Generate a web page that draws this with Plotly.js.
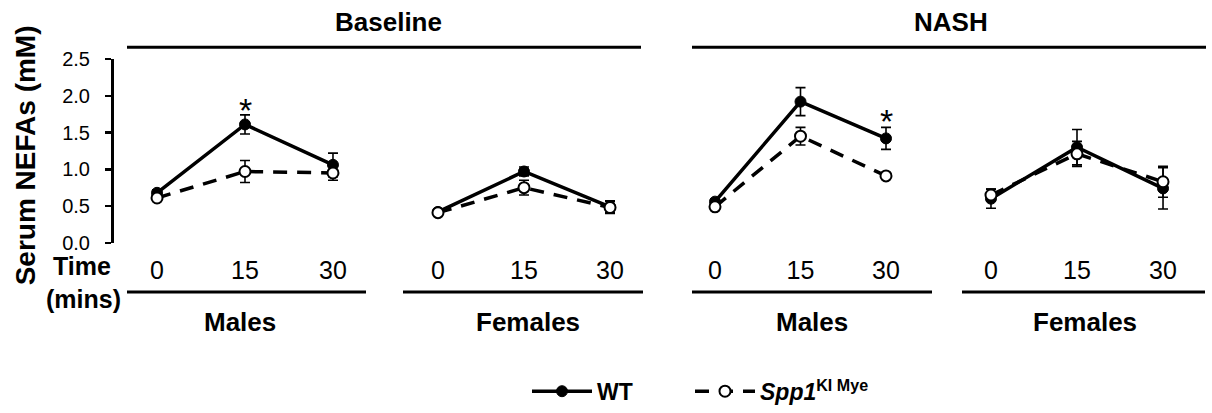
<!DOCTYPE html>
<html>
<head>
<meta charset="utf-8">
<script src="https://cdn.plot.ly/plotly-3.0.1.min.js"></script>
<style>html,body{margin:0;padding:0;background:#fff}#chart{width:1212px;height:413px}</style>
</head>
<body>
<div id="chart"></div>
<script>
// ---- data ----
var times = [0, 15, 30];
var timeTicks = ['0', '15', '30'];
var panelNames = ['Males', 'Females', 'Males', 'Females'];
var groupNames = ['Baseline', 'NASH'];
var seriesNames = ['WT', '<i>Spp1</i><sup>KI Mye</sup>'];

var wtBaseMale = [0.68, 1.61, 1.06];
var wtBaseMaleErr = [0.04, 0.13, 0.16];
var koBaseMale = [0.61, 0.97, 0.95];
var koBaseMaleErr = [0.04, 0.15, 0.10];

var wtBaseFemale = [0.42, 0.97, 0.49];
var wtBaseFemaleErr = [0.03, 0.06, 0.08];
var koBaseFemale = [0.41, 0.75, 0.48];
var koBaseFemaleErr = [0.03, 0.10, 0.08];

var wtNashMale = [0.56, 1.92, 1.42];
var wtNashMaleErr = [0.04, 0.19, 0.15];
var koNashMale = [0.49, 1.45, 0.91];
var koNashMaleErr = [0.03, 0.12, 0.03];

var wtNashFemale = [0.60, 1.30, 0.74];
var wtNashFemaleErr = [0.13, 0.24, 0.28];
var koNashFemale = [0.65, 1.21, 0.83];
var koNashFemaleErr = [0.08, 0.17, 0.21];

// significance marks: panel index, time, y position
var sigPanels = [0, 2];
var sigTimes = [15, 30];
var sigY = [1.80, 1.66];

// ---- layout helpers ----
var W = 1212, H = 413;
function px(x) { return x / W; }
function py(y) { return 1 - y / H; }

var wtData = [wtBaseMale, wtBaseFemale, wtNashMale, wtNashFemale];
var wtErr = [wtBaseMaleErr, wtBaseFemaleErr, wtNashMaleErr, wtNashFemaleErr];
var koData = [koBaseMale, koBaseFemale, koNashMale, koNashFemale];
var koErr = [koBaseMaleErr, koBaseFemaleErr, koNashMaleErr, koNashFemaleErr];

var FONT = 'Liberation Sans, Arial, sans-serif';
var axSuffix = ['', '2', '3', '4'];

var traces = [];
for (var i = 0; i < 4; i++) {
  traces.push({
    type: 'scatter', mode: 'lines+markers',
    x: times, y: wtData[i],
    xaxis: 'x' + axSuffix[i], yaxis: 'y',
    name: seriesNames[0], legendgroup: 'wt', showlegend: i === 0, legend: 'legend',
    line: { color: '#000', width: 3.5 },
    marker: { symbol: 'circle', size: 11, color: '#000', line: { color: '#000', width: 1 } },
    error_y: { type: 'data', array: wtErr[i], visible: true, color: '#000', thickness: 1.6, width: 5 },
    cliponaxis: false
  });
}
for (var j = 0; j < 4; j++) {
  traces.push({
    type: 'scatter', mode: 'lines+markers',
    x: times, y: koData[j],
    xaxis: 'x' + axSuffix[j], yaxis: 'y',
    name: seriesNames[1], legendgroup: 'ko', showlegend: j === 0, legend: 'legend2',
    line: { color: '#000', width: 3.5, dash: '14px,10px' },
    marker: { symbol: 'circle', size: 11, color: '#fff', line: { color: '#000', width: 2 } },
    error_y: { type: 'data', array: koErr[j], visible: true, color: '#000', thickness: 1.6, width: 5 },
    cliponaxis: false
  });
}

function legendAt(xpx) {
  return {
    orientation: 'h', x: px(xpx), xanchor: 'left', y: py(398), yanchor: 'middle',
    font: { family: FONT, size: 23, color: '#000', weight: 'bold' },
    itemwidth: 60,
    bgcolor: 'rgba(0,0,0,0)', itemclick: false, itemdoubleclick: false
  };
}

// x domains in pixels (range -5..35)
var xDomPx = [[127.7, 362.3], [409.3, 638.7], [686.5, 914.5], [962.3, 1191.7]];
var layout = {
  width: W, height: H,
  margin: { l: 0, r: 0, t: 0, b: 0 },
  paper_bgcolor: '#fff', plot_bgcolor: 'rgba(0,0,0,0)',
  font: { family: FONT, color: '#000' },
  showlegend: true,
  legend: legendAt(527),
  legend2: legendAt(690),
  yaxis: {
    domain: [py(247), py(60)], range: [0, 2.5],
    anchor: 'free', position: px(112),
    showline: true, linecolor: '#000', linewidth: 2.5,
    ticks: 'outside', ticklen: 6, tickwidth: 2.5, tickcolor: '#000',
    dtick: 0.5, tick0: 0, tickformat: '.1f',
    tickfont: { family: FONT, size: 20, color: '#000' },
    ticklabelstandoff: 11,
    showgrid: false, zeroline: false, fixedrange: true
  },
  shapes: [],
  annotations: []
};
for (var k = 0; k < 4; k++) {
  layout['xaxis' + axSuffix[k]] = {
    domain: [px(xDomPx[k][0]), px(xDomPx[k][1])],
    range: [-5, 35], anchor: 'y',
    tickvals: times, ticktext: timeTicks,
    tickfont: { family: FONT, size: 25, color: '#000' },
    ticks: '', showline: false, showgrid: false, zeroline: false,
    ticklabelstandoff: 10, fixedrange: true
  };
}

// bottom bracket lines and panel names
var bottomLines = [[127, 366], [403, 643], [692, 932], [962, 1205]];
var panelCenters = [240, 528, 812, 1085];
for (var b = 0; b < 4; b++) {
  layout.shapes.push({ type: 'line', xref: 'paper', yref: 'paper',
    x0: px(bottomLines[b][0]), x1: px(bottomLines[b][1]), y0: py(297), y1: py(297),
    line: { color: '#000', width: 3 } });
  layout.annotations.push({ xref: 'paper', yref: 'paper', x: px(panelCenters[b]), y: py(328),
    text: '<b>' + panelNames[b] + '</b>', showarrow: false, xanchor: 'center', yanchor: 'middle',
    font: { family: FONT, size: 26, color: '#000' } });
}
// top group lines and headers
var topLines = [[127, 641], [692, 1206]];
var groupCenters = [388, 951];
for (var g = 0; g < 2; g++) {
  layout.shapes.push({ type: 'line', xref: 'paper', yref: 'paper',
    x0: px(topLines[g][0]), x1: px(topLines[g][1]), y0: py(48), y1: py(48),
    line: { color: '#000', width: 3 } });
  layout.annotations.push({ xref: 'paper', yref: 'paper', x: px(groupCenters[g]), y: py(22),
    text: '<b>' + groupNames[g] + '</b>', showarrow: false, xanchor: 'center', yanchor: 'middle',
    font: { family: FONT, size: 26, color: '#000' } });
}
// significance asterisks
for (var s = 0; s < sigPanels.length; s++) {
  layout.annotations.push({ xref: 'x' + axSuffix[sigPanels[s]], yref: 'y',
    x: sigTimes[s], y: sigY[s], text: '*', showarrow: false, xanchor: 'center', yanchor: 'middle',
    font: { family: FONT, size: 34, color: '#000' } });
}
// y title, time label
layout.annotations.push({ xref: 'paper', yref: 'paper', x: px(25), y: py(158),
  text: '<b>Serum NEFAs (mM)</b>', textangle: -90, showarrow: false,
  xanchor: 'center', yanchor: 'middle', font: { family: FONT, size: 28, color: '#000' } });
layout.annotations.push({ xref: 'paper', yref: 'paper', x: px(82), y: py(271),
  text: '<b>Time</b>', showarrow: false, xanchor: 'center', yanchor: 'middle',
  font: { family: FONT, size: 25, color: '#000' } });
layout.annotations.push({ xref: 'paper', yref: 'paper', x: px(83), y: py(304),
  text: '<b>(mins)</b>', showarrow: false, xanchor: 'center', yanchor: 'middle',
  font: { family: FONT, size: 25, color: '#000' } });

Plotly.newPlot('chart', traces, layout, { displayModeBar: false, staticPlot: true });
</script>
</body>
</html>
